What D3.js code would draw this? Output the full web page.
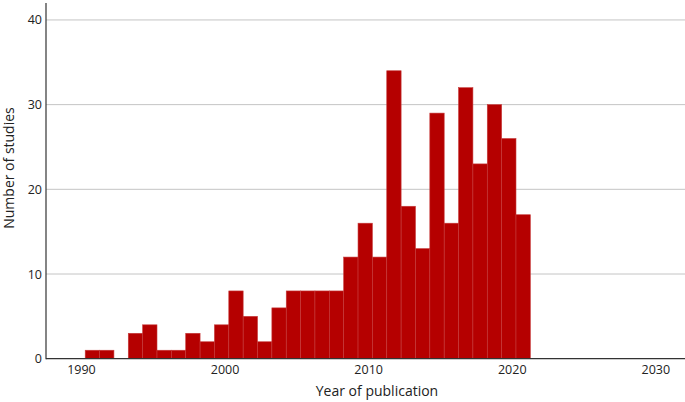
<!DOCTYPE html>
<html><head><meta charset="utf-8">
<script src="https://cdn.jsdelivr.net/npm/d3@7"></script>
<style>body{margin:0;background:#fff}svg{display:block}text{font-family:"Open Sans",sans-serif;fill:#222}</style>
</head><body><svg id="c" width="685" height="402"></svg>
<script>
const years = [1990,1991,1992,1993,1994,1995,1996,1997,1998,1999,2000,2001,2002,2003,2004,2005,2006,2007,2008,2009,2010,2011,2012,2013,2014,2015,2016,2017,2018,2019,2020];
const counts = [1,1,0,3,4,1,1,3,2,4,8,5,2,6,8,8,8,8,12,16,12,34,18,13,29,16,32,23,30,26,17];
const xTicks = [1990,2000,2010,2020,2030];
const yTicks = [0,10,20,30,40];

const svg = d3.select("#c");
const x = d3.scaleLinear().domain([1987.53, 2032.03]).range([46, 685]);
const y = d3.scaleLinear().domain([0, 42]).range([358.7, 3]);
const binOffset = 0.26, binWidth = 1;

// gridlines
svg.append("g").selectAll("line").data(yTicks.filter(d=>d>0)).join("line")
  .attr("x1", x.range()[0]).attr("x2", x.range()[1])
  .attr("y1", d=>y(d)).attr("y2", d=>y(d))
  .attr("stroke", "#c4c4c4").attr("stroke-width", 1);

// bars
svg.append("g").selectAll("rect").data(years.map((yr,i)=>({yr, c:counts[i]})).filter(d=>d.c>0)).join("rect")
  .attr("x", d=>x(d.yr+binOffset))
  .attr("width", d=>x(d.yr+binOffset+binWidth)-x(d.yr+binOffset))
  .attr("y", d=>y(d.c))
  .attr("height", d=>y(0)-y(d.c))
  .attr("fill", "#b50000")
  .attr("stroke", "#c63a3a").attr("stroke-width", 0.6);

// axes lines
svg.append("line").attr("x1", 46).attr("x2", 46).attr("y1", y.range()[1]).attr("y2", y(0)+0.5)
  .attr("stroke", "#333").attr("stroke-width", 1.2);
svg.append("line").attr("x1", 46).attr("x2", 685).attr("y1", y(0)).attr("y2", y(0))
  .attr("stroke", "#333").attr("stroke-width", 1.2);

// tick labels
svg.append("g").selectAll("text").data(xTicks).join("text")
  .attr("x", d=>x(d)).attr("y", 374).attr("text-anchor","middle")
  .attr("font-size", 12.5).text(d=>d);
svg.append("g").selectAll("text").data(yTicks).join("text")
  .attr("x", 42).attr("y", d=>y(d)).attr("dy","0.36em").attr("text-anchor","end")
  .attr("font-size", 12.5).text(d=>d);

// titles
svg.append("text").attr("x", 377).attr("y", 396).attr("text-anchor","middle")
  .attr("font-size", 14).text("Year of publication");
svg.append("text").attr("transform","translate(14,168) rotate(-90)").attr("text-anchor","middle")
  .attr("font-size", 14).text("Number of studies");
</script></body></html>
